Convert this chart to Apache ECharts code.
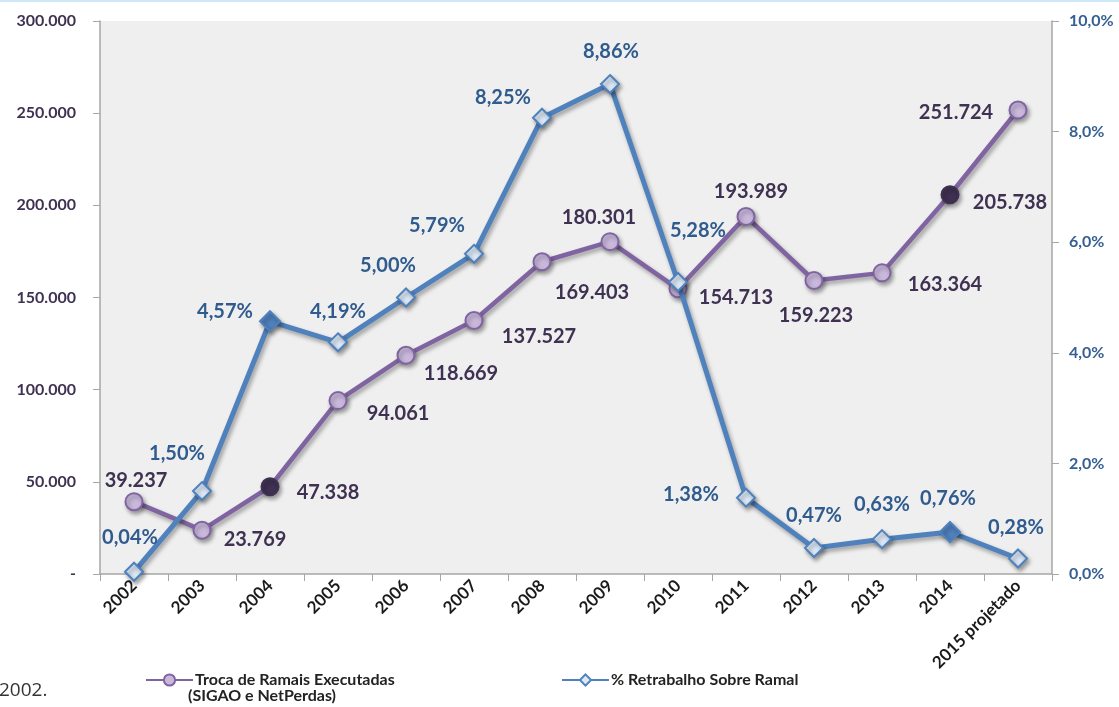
<!DOCTYPE html>
<html>
<head>
<meta charset="utf-8">
<script src="https://cdn.jsdelivr.net/npm/echarts@6/dist/echarts.min.js"></script>
<style>
html, body { margin: 0; padding: 0; background: #fff; }
#myChart { width: 1119px; height: 707px; }
</style>
</head>
<body>
<div id="myChart"></div>
<script>
// dados
const anos = ['2002', '2003', '2004', '2005', '2006', '2007', '2008', '2009', '2010', '2011', '2012', '2013', '2014', '2015 projetado']
const trocaRamais = [39237, 23769, 47338, 94061, 118669, 137527, 169403, 180301, 154713, 193989, 159223, 163364, 205738, 251724]
const retrabalho = [0.04, 1.50, 4.57, 4.19, 5.00, 5.79, 8.25, 8.86, 5.28, 1.38, 0.47, 0.63, 0.76, 0.28]
const nomeTroca = 'Troca de Ramais Executadas\n(SIGAO e NetPerdas)'
const nomeRetrabalho = '% Retrabalho Sobre Ramal'

// anos com marcador destacado
const destaque = ['2004', '2014']

// deslocamento dos rótulos em px [dx, dy]
const offTroca = [[2, -21], [53, 9], [58, 6], [60, 13], [55, 18], [65, 16], [50, 31], [-11, -24], [58, 9], [5, -25], [2, 35], [63, 12], [60, 8], [-62, 3]]
const offRetrabalho = [[-4, -34], [-25, -38], [-45, -10], [0, -31], [-18, -32], [-37, -28], [-39, -20], [1, -32], [20, -51], [-55, -3], [0, -32], [0, -35], [-2, -33], [-2, -31]]

const fonte = 'Lato, "Open Sans", sans-serif'
const roxo = '#8064a2'
const roxoEscuro = '#3f3151'
const azul = '#4f81bd'
const azulTexto = '#2f5b8e'

let myChart = echarts.init(document.getElementById('myChart'))

let dadosTroca = trocaRamais.map((v, i) => {
    let item = {
        value: v,
        label: { offset: offTroca[i] }
    }
    if (destaque.includes(anos[i])) {
        item.itemStyle = { color: roxoEscuro, borderColor: roxoEscuro }
    }
    return item
})

let dadosRetrabalho = retrabalho.map((v, i) => {
    let item = {
        value: v,
        label: { offset: offRetrabalho[i] }
    }
    if (destaque.includes(anos[i])) {
        item.itemStyle = { color: azul, borderColor: azul }
        item.symbolSize = 20
    }
    return item
})

let sombra = {
    shadowColor: 'rgba(0, 0, 0, 0.35)',
    shadowBlur: 4,
    shadowOffsetX: 2,
    shadowOffsetY: 3
}

let option = {
    animation: false,
    textStyle: { fontFamily: fonte },
    grid: {
        left: 100,
        right: 67,
        top: 21,
        bottom: 133,
        show: true,
        backgroundColor: '#efefef',
        borderWidth: 0
    },
    legend: [
        {
            data: [nomeTroca],
            left: 140,
            top: 667,
            itemWidth: 47,
            itemHeight: 14,
            formatter: (n) => n.split('\n')[0],
            textStyle: { fontFamily: fonte, fontSize: 16, fontWeight: 'bold', color: '#222', padding: [0, 0, 0, -3] }
        },
        {
            data: [nomeRetrabalho],
            left: 556,
            top: 667,
            itemWidth: 47,
            itemHeight: 14,
            textStyle: { fontFamily: fonte, fontSize: 16, fontWeight: 'bold', color: '#222', padding: [0, 0, 0, -3] }
        }
    ],
    graphic: [
        {
            type: 'rect',
            left: 0,
            top: 0,
            shape: { width: 1119, height: 2 },
            style: { fill: '#cde9f8' }
        },
        {
            type: 'text',
            left: 188,
            top: 688,
            style: { text: '(SIGAO e NetPerdas)', font: 'bold 16px ' + fonte, fill: '#222' }
        },
        {
            type: 'text',
            left: -1,
            top: 681,
            style: { text: '2002.', font: '19px "Open Sans", sans-serif', fill: '#333' }
        }
    ],
    xAxis: {
        type: 'category',
        data: anos,
        boundaryGap: true,
        axisLine: { lineStyle: { color: '#a6a6a6', width: 1.5 } },
        axisTick: { show: true, length: 7, lineStyle: { color: '#a6a6a6' } },
        axisLabel: {
            interval: 0,
            rotate: 45,
            margin: 9,
            fontFamily: fonte,
            fontSize: 17,
            fontWeight: 'bold',
            color: '#1a1a1a'
        },
        splitLine: { show: false }
    },
    yAxis: [
        {
            type: 'value',
            min: 0,
            max: 300000,
            interval: 50000,
            axisLine: { show: true, lineStyle: { color: '#a6a6a6', width: 1.5 } },
            axisTick: { show: true, length: 7, lineStyle: { color: '#a6a6a6' } },
            splitLine: { show: false },
            axisLabel: {
                margin: 24,
                fontFamily: fonte,
                fontSize: 16,
                fontWeight: 'bold',
                color: roxoEscuro,
                formatter: (v) => v === 0 ? '-' : v.toLocaleString('de-DE')
            }
        },
        {
            type: 'value',
            min: 0,
            max: 10,
            interval: 2,
            position: 'right',
            axisLine: { show: true, lineStyle: { color: '#a6a6a6', width: 1.5 } },
            axisTick: { show: true, length: 7, lineStyle: { color: '#a6a6a6' } },
            splitLine: { show: false },
            axisLabel: {
                margin: 17,
                fontFamily: fonte,
                fontSize: 16,
                fontWeight: 'bold',
                color: '#365f91',
                formatter: (v) => v.toFixed(1).replace('.', ',') + '%'
            }
        }
    ],
    series: [
        {
            name: nomeTroca,
            type: 'line',
            yAxisIndex: 0,
            data: dadosTroca,
            symbol: 'circle',
            symbolSize: 17,
            lineStyle: Object.assign({ color: roxo, width: 4.5 }, sombra),
            itemStyle: Object.assign({ color: '#c9b8dc', borderColor: roxo, borderWidth: 2 }, sombra),
            label: {
                show: true,
                position: 'inside',
                fontFamily: fonte,
                fontSize: 20,
                fontWeight: 'bold',
                color: roxoEscuro,
                formatter: (p) => p.value.toLocaleString('de-DE')
            },
            z: 2
        },
        {
            name: nomeRetrabalho,
            type: 'line',
            yAxisIndex: 1,
            data: dadosRetrabalho,
            symbol: 'diamond',
            symbolSize: 18,
            lineStyle: Object.assign({ color: azul, width: 5 }, sombra),
            itemStyle: Object.assign({ color: '#dce8f6', borderColor: azul, borderWidth: 2 }, sombra),
            label: {
                show: true,
                position: 'inside',
                fontFamily: fonte,
                fontSize: 20,
                fontWeight: 'bold',
                color: azulTexto,
                formatter: (p) => p.value.toFixed(2).replace('.', ',') + '%'
            },
            z: 3
        }
    ]
}

myChart.setOption(option)
</script>
</body>
</html>
